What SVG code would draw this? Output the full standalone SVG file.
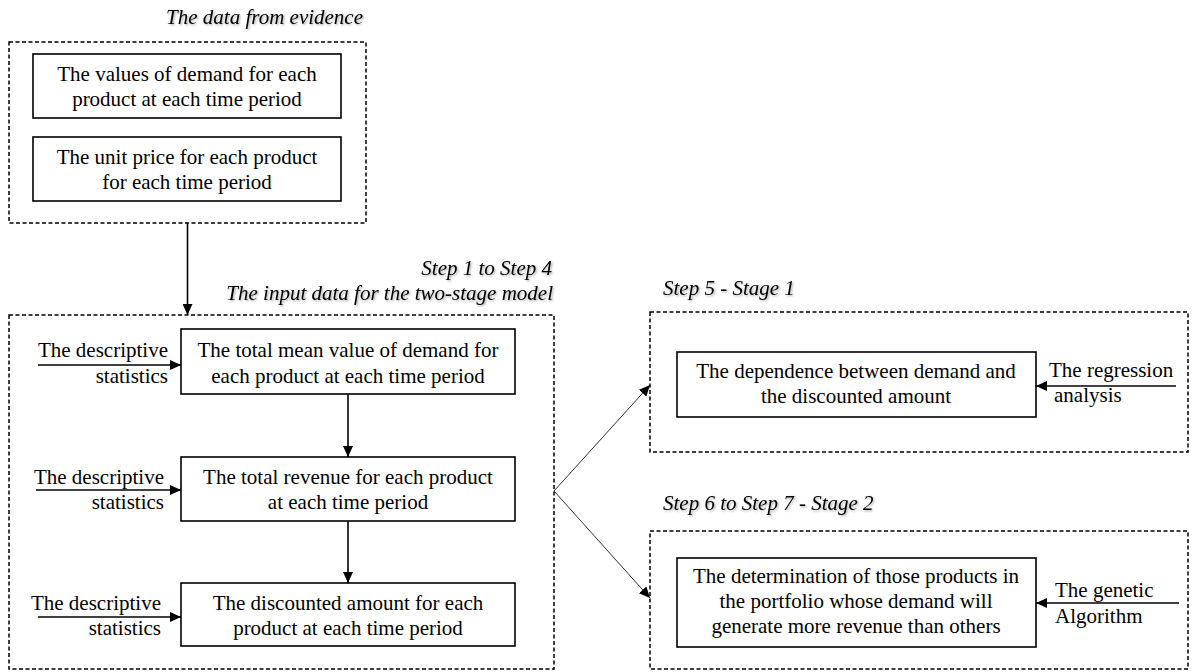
<svg xmlns="http://www.w3.org/2000/svg" width="1192" height="672" viewBox="0 0 1192 672">
<style>
  .t { font-family: "Liberation Serif", "Times New Roman", serif; font-size: 21px; fill: #000; }
  .c { text-anchor: middle; }
  .r { text-anchor: end; }
  .ti { font-family: "Liberation Serif", "Times New Roman", serif; font-size: 21px; font-style: italic; fill: #000; filter: url(#sh); }
  .box { fill: #fff; stroke: #000; stroke-width: 1.6; }
  .dash { fill: none; stroke: #000; stroke-width: 1.5; stroke-dasharray: 4 2.5; }
  .ar { fill: none; stroke: #000; stroke-width: 1.6; marker-end: url(#ah); }
  .thin { fill: none; stroke: #333; stroke-width: 1; marker-end: url(#ah2); }
</style>
<defs>
  <marker id="ah" markerUnits="userSpaceOnUse" markerWidth="12" markerHeight="10" refX="11" refY="5" orient="auto">
    <path d="M0,0 L11,5 L0,10 z" fill="#000"/>
  </marker>
  <marker id="ah2" markerUnits="userSpaceOnUse" markerWidth="12" markerHeight="10" refX="11" refY="5" orient="auto">
    <path d="M0,0 L11,5 L0,10 z" fill="#000"/>
  </marker>
  <filter id="sh" x="-5%" y="-30%" width="110%" height="160%">
    <feDropShadow dx="1.2" dy="1.2" stdDeviation="0.8" flood-color="#000" flood-opacity="0.35"/>
  </filter>
</defs>

<g id="evidence">
  <text class="ti r" x="363" y="24">The data from evidence</text>
  <rect class="dash" x="9" y="42" width="357" height="181"/>
  <g id="demand-values">
    <rect class="box" x="33" y="54" width="308" height="64"/>
    <text class="t c" x="187" y="81">The values of demand for each</text>
    <text class="t c" x="187" y="106">product at each time period</text>
  </g>
  <g id="unit-price">
    <rect class="box" x="33" y="137" width="308" height="64"/>
    <text class="t c" x="187" y="164">The unit price for each product</text>
    <text class="t c" x="187" y="189">for each time period</text>
  </g>
</g>

<g id="input-data">
  <text class="ti r" x="552" y="275">Step 1 to Step 4</text>
  <text class="ti r" x="553" y="300">The input data for the two-stage model</text>
  <rect class="dash" x="9" y="315" width="545" height="354"/>
  <g id="mean-demand">
    <rect class="box" x="181" y="329" width="334" height="65"/>
    <text class="t c" x="348" y="357">The total mean value of demand for</text>
    <text class="t c" x="348" y="383">each product at each time period</text>
  </g>
  <g id="total-revenue">
    <rect class="box" x="181" y="457" width="334" height="64"/>
    <text class="t c" x="348" y="484">The total revenue for each product</text>
    <text class="t c" x="348" y="509">at each time period</text>
  </g>
  <g id="discounted-amount">
    <rect class="box" x="181" y="583" width="334" height="63"/>
    <text class="t c" x="348" y="610">The discounted amount for each</text>
    <text class="t c" x="348" y="635">product at each time period</text>
  </g>
  <g id="desc-stats-1">
    <text class="t r" x="168" y="357">The descriptive</text>
    <text class="t r" x="168" y="383">statistics</text>
  </g>
  <g id="desc-stats-2">
    <text class="t r" x="164" y="484">The descriptive</text>
    <text class="t r" x="164" y="509">statistics</text>
  </g>
  <g id="desc-stats-3">
    <text class="t r" x="161" y="610">The descriptive</text>
    <text class="t r" x="161" y="635">statistics</text>
  </g>
</g>

<g id="stage1">
  <text class="ti" x="663" y="295">Step 5 - Stage 1</text>
  <rect class="dash" x="650" y="312" width="538" height="140"/>
  <g id="dependence">
    <rect class="box" x="677" y="352" width="359" height="65"/>
    <text class="t c" x="856" y="378">The dependence between demand and</text>
    <text class="t c" x="856" y="403">the discounted amount</text>
  </g>
  <g id="regression">
    <text class="t" x="1049" y="377">The regression</text>
    <text class="t" x="1054" y="402">analysis</text>
  </g>
</g>

<g id="stage2">
  <text class="ti" x="663" y="510">Step 6 to Step 7 - Stage 2</text>
  <rect class="dash" x="650" y="531" width="538" height="138"/>
  <g id="determination">
    <rect class="box" x="677" y="558" width="359" height="89"/>
    <text class="t c" x="856" y="583">The determination of those products in</text>
    <text class="t c" x="856" y="608">the portfolio whose demand will</text>
    <text class="t c" x="856" y="633">generate more revenue than others</text>
  </g>
  <g id="genetic">
    <text class="t" x="1055" y="597">The genetic</text>
    <text class="t" x="1055" y="623">Algorithm</text>
  </g>
</g>

<g id="connectors">
  <line class="ar" x1="187.5" y1="223" x2="187.5" y2="315"/>
  <line class="ar" x1="348" y1="394" x2="348" y2="457"/>
  <line class="ar" x1="348" y1="521" x2="348" y2="583"/>
  <line class="ar" x1="38" y1="365" x2="181" y2="365"/>
  <line class="ar" x1="36" y1="490" x2="181" y2="490"/>
  <line class="ar" x1="38" y1="617" x2="181" y2="617"/>
  <line class="ar" x1="1176" y1="386" x2="1036" y2="386"/>
  <line class="ar" x1="1179" y1="603" x2="1036" y2="603"/>
  <line class="thin" x1="554" y1="491" x2="650" y2="385"/>
  <line class="thin" x1="554" y1="491" x2="650" y2="598"/>
</g>
</svg>
